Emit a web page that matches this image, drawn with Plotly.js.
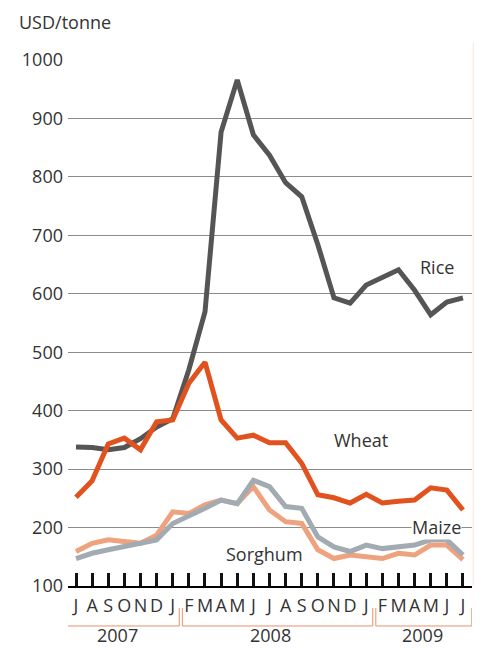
<!DOCTYPE html>
<html>
<head>
<meta charset="utf-8">
<script src="https://cdn.plot.ly/plotly-3.0.1.min.js"></script>
<style>
html,body{margin:0;padding:0;background:#fff;}
#chart{width:482px;height:648px;}
</style>
</head>
<body>
<div id="chart"></div>
<script>
// Months July 2007 .. July 2009
const monthLabels = ['J','A','S','O','N','D','J','F','M','A','M','J','J','A','S','O','N','D','J','F','M','A','M','J','J'];
const years = ['2007','2008','2009'];
const yearFirstIdx = [0, 7, 19];
const yearLastIdx = [6, 18, 24];
const yearLabelPos = [2.6, 12.05, 21.5];

const rice    = [338,337,333,337,352,372,386,470,569,877,966,872,837,790,766,684,593,584,615,629,641,606,564,586,593];
const wheat   = [252,280,343,353,333,381,384,447,483,384,353,358,345,345,310,256,251,242,257,242,245,247,268,264,230];
const maize   = [147,156,162,167,173,179,207,219,233,247,241,281,270,236,233,184,167,159,170,164,167,170,179,179,153];
const sorghum = [159,173,179,176,173,187,227,224,239,247,241,270,230,210,207,162,147,153,150,147,156,153,170,170,145];

const seriesNames = ['Sorghum','Maize','Rice','Wheat'];
const seriesData = [sorghum, maize, rice, wheat];
const seriesColors = ['#eea27e','#a2aab2','#555555','#e2521f'];

const xIdx = monthLabels.map((_, i) => i);
const FONT = '"Open Sans", "Noto Sans", sans-serif';
const TXT = '#333333';

const traces = seriesNames.map((n, k) => ({
  type: 'scatter', mode: 'lines', name: n,
  x: xIdx, y: seriesData[k],
  line: {color: seriesColors[k], width: 5, shape: 'linear'},
  hoverinfo: 'skip'
}));

const xmin = -0.496, xmax = 24.56;
const gap = 0.095;

const bracketColor = '#e8906a';
const brY = -0.076, brTop = -0.042;
const shapes = [];
years.forEach((yr, k) => {
  const a = k === 0 ? xmin : yearFirstIdx[k] - 0.5 + gap;
  const b = k === years.length - 1 ? xmax - 0.01 : yearLastIdx[k] + 0.5 - gap;
  shapes.push({type:'line', xref:'x', yref:'paper', x0:a, x1:b, y0:brY, y1:brY, line:{color:bracketColor, width:1}});
  if (k > 0) shapes.push({type:'line', xref:'x', yref:'paper', x0:a, x1:a, y0:brY, y1:brTop, line:{color:bracketColor, width:1}});
  shapes.push({type:'line', xref:'x', yref:'paper', x0:b, x1:b, y0:brY, y1:brTop, line:{color:bracketColor, width:1}});
});
// faint page edge line at right
shapes.push({type:'line', xref:'paper', yref:'paper', x0:1.003, x1:1.003, y0:0, y1:1.032, line:{color:'#fbe3d6', width:1}});

const annotations = [
  {text:'USD/tonne', xref:'paper', yref:'paper', x:-0.126, y:1.072, xanchor:'left', yanchor:'middle', showarrow:false, font:{family:FONT, size:18, color:TXT}},
  {text:'Rice', xref:'x', yref:'y', x:22.39, y:646, showarrow:false, font:{family:FONT, size:18, color:TXT}},
  {text:'Wheat', xref:'x', yref:'y', x:17.67, y:350, showarrow:false, font:{family:FONT, size:18, color:TXT}},
  {text:'Maize', xref:'x', yref:'y', x:22.33, y:201, showarrow:false, bgcolor:'#ffffff', borderpad:0, font:{family:FONT, size:18, color:TXT}},
  {text:'Sorghum', xref:'x', yref:'y', x:11.72, y:155, showarrow:false, font:{family:FONT, size:18, color:TXT}}
];
years.forEach((yr, k) => {
  annotations.push({text:yr, xref:'x', yref:'paper', x:yearLabelPos[k], y:-0.094, xanchor:'center', yanchor:'middle', showarrow:false, borderpad:0, font:{family:FONT, size:18, color:TXT}});
});

const layout = {
  width: 482, height: 648,
  margin: {l:68, r:10, t:60, b:62},
  paper_bgcolor:'#ffffff', plot_bgcolor:'#ffffff',
  showlegend:false,
  font:{family:FONT, size:18, color:TXT},
  xaxis: {
    range:[xmin, xmax], tickmode:'array', tickvals:xIdx, ticktext:monthLabels,
    showgrid:false, zeroline:false,
    showline:true, linecolor:'#000', linewidth:2,
    ticks:'inside', ticklen:13, tickwidth:3, tickcolor:'#111',
    ticklabelstandoff:2,
    tickfont:{family:FONT, size:18, color:TXT}, tickangle:0
  },
  yaxis: {
    range:[100,1000], tickmode:'array', tickvals:[100,200,300,400,500,600,700,800,900,1000],
    showgrid:true, gridcolor:'#8c8c8c', gridwidth:1, zeroline:false,
    showline:false, ticks:'', ticklabelstandoff:4,
    tickfont:{family:FONT, size:18, color:TXT}
  },
  shapes: shapes,
  annotations: annotations
};

Plotly.newPlot('chart', traces, layout, {staticPlot:true, displayModeBar:false});
</script>
</body>
</html>
